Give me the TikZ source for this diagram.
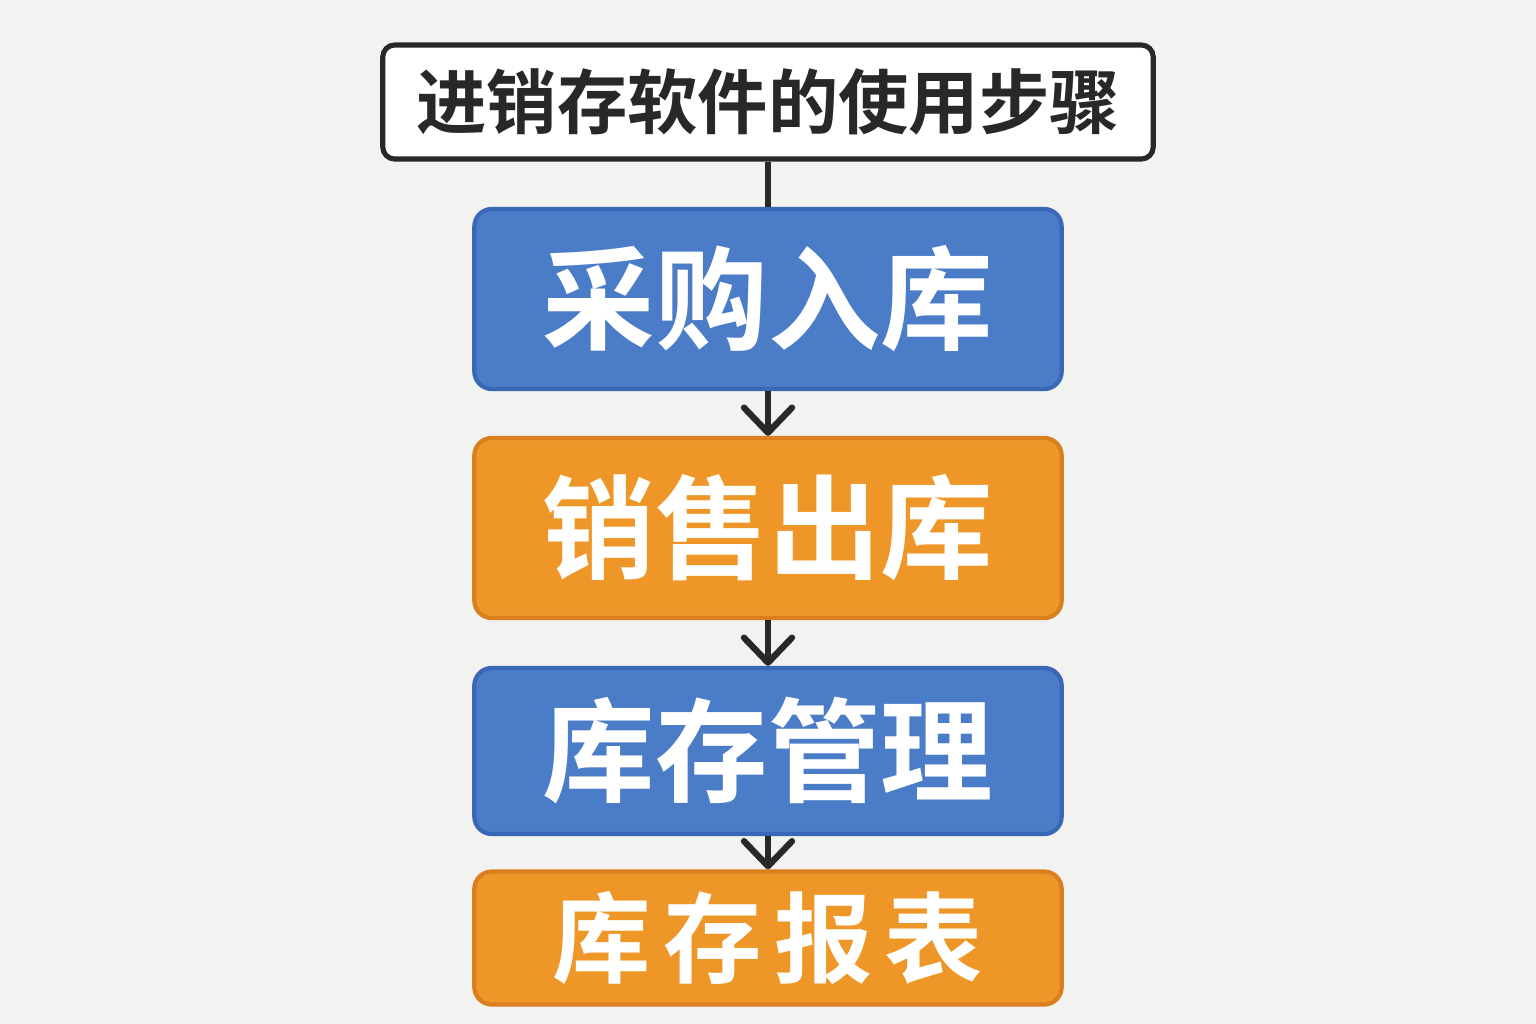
\documentclass[tikz,border=0pt]{standalone}
\usepackage{fontspec}
\newfontfamily\cjk{Noto Sans CJK SC}[BoldFont={Noto Sans CJK SC Bold}]
\usetikzlibrary{arrows.meta}
\definecolor{pagebg}{RGB}{242,242,240}
\definecolor{stepblue}{RGB}{74,124,200}
\definecolor{stepbluedraw}{RGB}{56,104,182}
\definecolor{steporange}{RGB}{238,151,40}
\definecolor{steporangedraw}{RGB}{218,126,30}
\definecolor{linkgray}{RGB}{40,40,40}
\tikzset{
  titlebox/.style={draw=linkgray,fill=white,line width=1.45pt,rounded corners=3.4pt,
    minimum width=7.70cm,minimum height=1.14cm,font=\cjk\bfseries\fontsize{20}{24}\selectfont,text=linkgray},
  stepbox/.style={line width=1.2pt,rounded corners=5pt,minimum width=5.87cm,
    text=white,font=\cjk\bfseries\fontsize{32}{36}\selectfont},
  bluestep/.style={stepbox,draw=stepbluedraw,fill=stepblue},
  orangestep/.style={stepbox,draw=steporangedraw,fill=steporange},
  link/.style={draw=linkgray,line width=1.8pt},
  linkarrow/.style={link,-{Straight Barb[round,length=2.5mm,width=4.8mm]}}
}
\begin{document}
\begin{tikzpicture}[x=0.01cm,y=-0.01cm]
  \fill[pagebg] (0,0) rectangle (1536,1024);
  \useasboundingbox (0,0) rectangle (1536,1024);
  % title and steps
  \node[titlebox] (title) at (768,102) {进销存软件的使用步骤};
  \node[bluestep,minimum height=1.80cm] (purchase) at (768,299) {采购入库};
  \node[orangestep,minimum height=1.80cm] (sales) at (768,528) {销售出库};
  \node[bluestep,minimum height=1.66cm] (stock) at (768,751) {库存管理};
  \node[orangestep,minimum height=1.33cm,font=\cjk\bfseries\fontsize{28}{32}\selectfont] (report) at (768,938)
    {库\kern3.5pt 存\kern3.5pt 报\kern3.5pt 表};
  % connectors
  \draw[link] (title) -- (purchase);
  \draw[linkarrow] (purchase) -- (sales);
  \draw[linkarrow] (sales) -- (stock);
  \draw[linkarrow] (stock) -- (report);
\end{tikzpicture}
\end{document}
